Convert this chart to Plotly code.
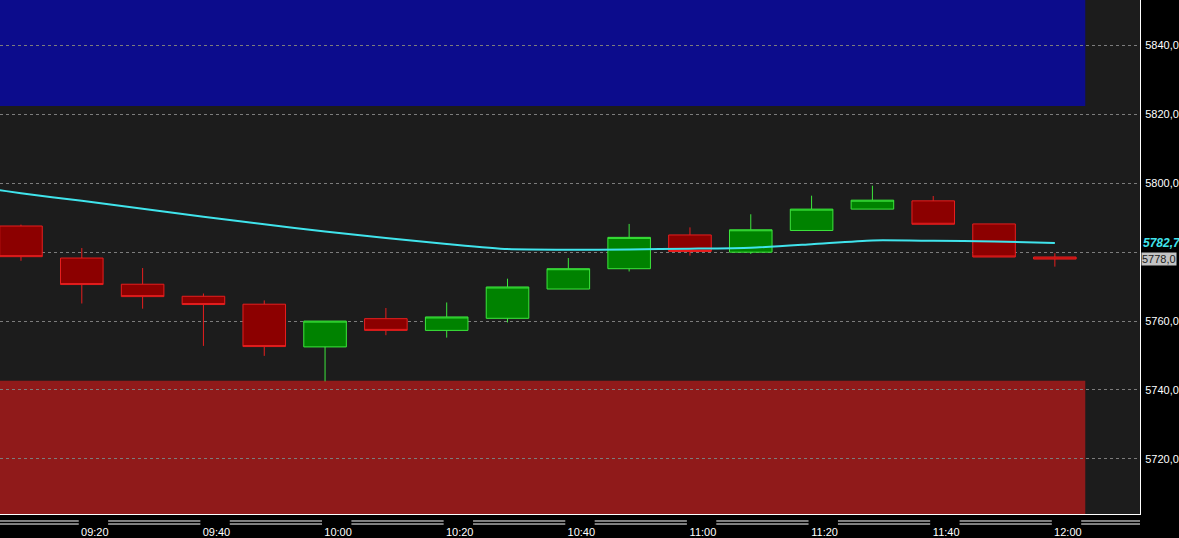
import plotly.graph_objects as go

# 10-minute candles, 09:10 .. 12:00
day = "2024-01-05 "
candle_times = ["09:10", "09:20", "09:30", "09:40", "09:50", "10:00", "10:10", "10:20", "10:30",
                "10:40", "10:50", "11:00", "11:10", "11:20", "11:30", "11:40", "11:50", "12:00"]
opens = [5787.6, 5778.3, 5770.7, 5767.2, 5764.9, 5752.5, 5760.7, 5757.3, 5760.8,
         5769.3, 5775.2, 5785.0, 5780.0, 5786.3, 5792.5, 5794.9, 5788.2, 5778.6]
highs = [5788.0, 5781.2, 5775.4, 5768.0, 5766.0, 5760.0, 5763.8, 5765.4, 5772.3,
         5778.3, 5788.2, 5787.2, 5791.0, 5796.4, 5799.3, 5796.3, 5788.2, 5779.7]
lows = [5777.5, 5765.1, 5763.6, 5752.8, 5749.9, 5742.5, 5755.9, 5755.2, 5759.6,
        5769.3, 5774.4, 5779.0, 5779.5, 5786.3, 5792.5, 5788.1, 5778.6, 5775.8]
closes = [5778.7, 5770.6, 5767.1, 5764.8, 5752.6, 5760.0, 5757.3, 5761.2, 5769.9,
          5775.2, 5784.3, 5780.2, 5786.5, 5792.5, 5795.1, 5788.1, 5778.6, 5778.0]

# moving average (starts before the first visible candle)
ma_times = ["09:00", "09:05"] + candle_times
ma_values = [5799.6, 5798.4, 5797.1, 5794.9, 5792.6, 5790.3, 5788.1, 5786.0, 5784.1, 5782.4,
             5780.9, 5780.7, 5780.8, 5781.0, 5781.3, 5782.3, 5783.4, 5783.3, 5783.1, 5782.7]

# price zones
upper_zone = [5822.4, 5870.0]
lower_zone = [5690.0, 5742.7]
zone_end = "12:05"

# axes
x_start, x_end = "09:06:33", "12:14:00"
y_range = [5704.0, 5853.2]
y_tick_vals = [5720, 5740, 5760, 5780, 5800, 5820, 5840]
y_tick_text = ["5720,0", "5740,0", "5760,0", "", "5800,0", "5820,0", "5840,0"]
x_label_times = ["09:20", "09:40", "10:00", "10:20", "10:40", "11:00", "11:20", "11:40", "12:00"]


def ts(t):
    if t.count(":") == 1:
        t += ":00"
    return day + t


def comma(v):
    return f"{v:.1f}".replace(".", ",")


fig = go.Figure()

fig.add_trace(
    go.Candlestick(
        x=[ts(t) for t in candle_times],
        open=opens,
        high=highs,
        low=lows,
        close=closes,
        increasing=dict(fillcolor="#008200", line=dict(color="#3ce63c", width=1)),
        decreasing=dict(fillcolor="#8c0000", line=dict(color="#e61e1e", width=1)),
        whiskerwidth=0,
        showlegend=False,
    )
)

fig.add_trace(
    go.Scatter(
        x=[ts(t) for t in ma_times],
        y=ma_values,
        mode="lines",
        line=dict(color="#40e4ec", width=2, shape="spline", smoothing=0.6),
        showlegend=False,
    )
)

# zones (below the grid)
fig.add_shape(type="rect", xref="x", yref="y", layer="below",
              x0=ts("08:00"), x1=ts(zone_end), y0=upper_zone[0], y1=upper_zone[1],
              fillcolor="#0c0c8c", line_width=0)
fig.add_shape(type="rect", xref="x", yref="y", layer="below",
              x0=ts("08:00"), x1=ts(zone_end), y0=lower_zone[0], y1=lower_zone[1],
              fillcolor="#901a1a", line_width=0)

# double rule under the time axis, broken around each label
edges = [ts(x_start)]
for t in x_label_times:
    h, m = t.split(":")
    left = f"{int(h):02d}:{int(m) - 1:02d}:30" if int(m) > 0 else f"{int(h) - 1:02d}:59:30"
    right = f"{int(h):02d}:{int(m) + 4:02d}:20"
    edges += [ts(left), ts(right)]
edges.append(ts("12:20"))
for i in range(0, len(edges), 2):
    for yy in (-0.0136, -0.0195):
        fig.add_shape(type="line", xref="x", yref="paper", x0=edges[i], x1=edges[i + 1],
                      y0=yy, y1=yy, line=dict(color="white", width=1))

# last values on the price scale
fig.add_annotation(xref="paper", yref="y", x=1, y=ma_values[-1], xanchor="left", yanchor="middle",
                   xshift=1, text=comma(ma_values[-1]), showarrow=False,
                   font=dict(family="Liberation Sans, Arial", size=12, color="#40e4ec",
                             weight="bold", style="italic"))
fig.add_annotation(xref="paper", yref="y", x=1, y=closes[-1], xanchor="left", yanchor="middle",
                   xshift=1, text=comma(closes[-1]), showarrow=False, bgcolor="#c3c3c3",
                   borderpad=0, font=dict(family="Liberation Sans, Arial", size=11, color="#1a1a1a"))

fig.update_layout(
    width=1179,
    height=538,
    margin=dict(l=0, r=39, t=0, b=24),
    paper_bgcolor="black",
    plot_bgcolor="#1c1c1c",
    hovermode=False,
    boxgap=0.3,
    boxgroupgap=0,
    font=dict(family="Liberation Sans, Arial", size=11, color="white"),
    xaxis=dict(
        type="date",
        range=[ts(x_start), ts(x_end)],
        rangeslider=dict(visible=False),
        showgrid=False,
        zeroline=False,
        showline=True,
        linecolor="white",
        linewidth=1,
        ticks="",
        tickformat="%H:%M",
        tick0=ts("09:20"),
        dtick=20 * 60 * 1000,
        ticklabelshift=13,
        ticklabelstandoff=8,
        tickfont=dict(size=11, color="white"),
    ),
    yaxis=dict(
        side="right",
        range=y_range,
        tickmode="array",
        tickvals=y_tick_vals,
        ticktext=y_tick_text,
        showgrid=True,
        gridcolor="#7c7c7c",
        gridwidth=1,
        griddash="3px,3px",
        zeroline=False,
        showline=True,
        linecolor="white",
        linewidth=1,
        ticks="",
        ticklabelstandoff=2,
        tickfont=dict(size=11, color="white"),
    ),
)

fig.write_html(
    "out.html",
    config={"displayModeBar": False},
    post_script="document.body.style.margin='0';document.body.style.background='black';",
)
